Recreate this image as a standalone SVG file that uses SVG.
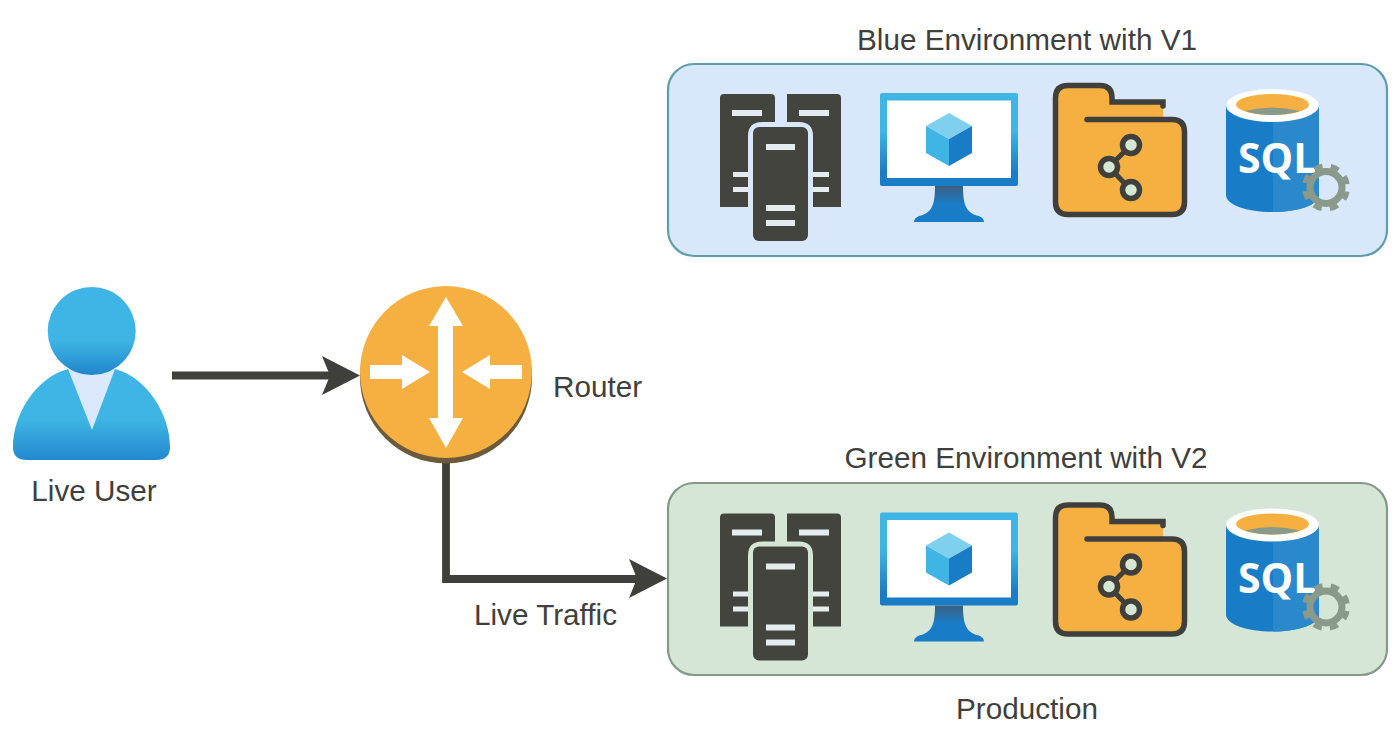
<svg xmlns="http://www.w3.org/2000/svg" xmlns:xlink="http://www.w3.org/1999/xlink" width="1400" height="746" viewBox="0 0 1400 746">
<style>
text{font-family:"Liberation Sans",Arial,sans-serif;font-size:29.7px;fill:#3f3f3b}
.m{text-anchor:middle}
.env{stroke-width:2.2}
.srv{fill:#44443f}
.slot{fill:#e4ecf0}
.conn{fill:none;stroke:#3f3f3b;stroke-width:7.8}
.head{fill:#3f3f3b}
.w{fill:#fff}
</style>
<defs>
<linearGradient id="headG" x1="0" y1="0" x2="0" y2="1"><stop offset="0.6" stop-color="#3fb5e5"/><stop offset="1" stop-color="#2085cb"/></linearGradient>
<linearGradient id="bodyG" x1="0" y1="0" x2="0" y2="1"><stop offset="0.55" stop-color="#3fb5e5"/><stop offset="1" stop-color="#2288ce"/></linearGradient>
<linearGradient id="monG" x1="0" y1="0" x2="0" y2="1"><stop offset="0.4" stop-color="#3fb5e5"/><stop offset="0.85" stop-color="#187dc6"/></linearGradient>
<linearGradient id="standG" x1="0" y1="0" x2="0" y2="1"><stop offset="0" stop-color="#3d5f82"/><stop offset="0.5" stop-color="#187dc6"/></linearGradient>
<g id="servers">
<path class="srv" d="M720,98Q720,94 724,94H771Q775,94 775,98V122H762Q748,122 748,136V207H720Z"/>
<path class="srv" d="M787,94H837Q841,94 841,98V207H813V136Q813,122 799,122H787Z"/>
<rect class="srv" x="753" y="127" width="55" height="114" rx="6"/>
<g class="slot">
<rect x="732" y="110" width="30" height="6"/><rect x="799" y="110" width="30" height="6"/>
<rect x="733" y="172" width="15" height="5"/><rect x="733" y="187" width="15" height="5"/>
<rect x="813" y="172" width="16" height="5"/><rect x="813" y="187" width="16" height="5"/>
<rect x="766" y="144" width="29" height="6"/><rect x="766" y="205" width="29" height="6"/><rect x="766" y="220" width="29" height="6"/>
</g>
</g>
<g id="monitor">
<rect x="880" y="93" width="138" height="93" rx="2" fill="url(#monG)"/>
<rect x="887" y="100.500" width="124" height="77.500" fill="#fff"/>
<path d="M935,186H963C963,205 966,213 979,216Q984,218 984,222H914Q914,218 919,216C932,213 935,205 935,186Z" fill="url(#standG)"/>
<path d="M949,113L972,126L949,139L926,126Z" fill="#7fd0ee"/>
<path d="M926,126L949,139V166L926,153Z" fill="#3fb5e5"/>
<path d="M972,126L949,139V166L972,153Z" fill="#187dc6"/>
</g>
<g id="folder">
<path d="M1056,86H1100Q1112,86 1112,98V102H1163V120H1172Q1185,120 1185,132V202Q1185,215 1172,215H1068Q1056,215 1056,202Z" fill="#f5b041"/>
<path d="M1087,119.500H1172Q1184.500,119.500 1184.500,132V202Q1184.500,214.500 1172,214.500H1068Q1055.500,214.500 1055.500,202V98Q1055.500,85.500 1068,85.500H1100Q1112,85.500 1112,98V102H1163V106" fill="none" stroke="#3f3f3b" stroke-width="5.500" stroke-linecap="round"/>
<path d="M1131,145L1109,167L1131,190" fill="none" stroke="#3f3f3b" stroke-width="5"/>
<g fill="#d5e8d4" stroke="#3f3f3b" stroke-width="5.500"><circle cx="1131" cy="145" r="8.500"/><circle cx="1109" cy="167" r="8.500"/><circle cx="1131" cy="190" r="8.500"/></g>
</g>
<g id="sql">
<path d="M1226,105V195C1226,205 1247,212 1272.500,212S1319,205 1319,195V105Z" fill="#187dc6"/>
<path d="M1273,122C1300,122 1319,115 1319,105V195C1319,205 1298,212 1273,212Z" fill="#2a88cc"/>
<ellipse cx="1272.500" cy="105.500" rx="46.500" ry="16.500" fill="#fff"/>
<ellipse cx="1272.500" cy="104.500" rx="36.500" ry="10.500" fill="#f5b041"/>
<path d="M1245,111Q1272,104 1300,111Q1288,115 1272.500,115Q1257,115 1245,111Z" fill="#8a9a8a"/>
<text x="1238" y="173" style="font-family:'Open Sans',sans-serif;font-size:41px;font-weight:700;fill:#fff">SQL</text>
<circle cx="1326" cy="187.500" r="16" fill="none" stroke="#8a9a8a" stroke-width="7"/>
<circle cx="1326" cy="187.500" r="21.500" fill="none" stroke="#8a9a8a" stroke-width="5" stroke-dasharray="8.440 8.440" stroke-dashoffset="12.660"/>
</g>
</defs>
<rect width="1400" height="746" fill="#fff"/>
<g id="connectors">
<path class="conn" d="M172,375.500H332"/>
<path class="head" d="M360,375.500L322,356L330,375.500L322,395Z"/>
<path class="conn" d="M446,460V579H640"/>
<path class="head" d="M667,578.500L629,559L637,578.500L629,598Z"/>
</g>
<g id="blue-env">
<rect class="env" x="668" y="64" width="719" height="192" rx="26" fill="#d8e8fa" stroke="#5f9ea8"/>
<text class="m" x="1027" y="50">Blue Environment with V1</text>
<use xlink:href="#servers" href="#servers"/><use xlink:href="#monitor" href="#monitor"/><use xlink:href="#folder" href="#folder"/><use xlink:href="#sql" href="#sql"/>
</g>
<g id="green-env">
<rect class="env" x="668" y="483" width="719" height="192" rx="26" fill="#d5e6d6" stroke="#85998a"/>
<text class="m" x="1026" y="468">Green Environment with V2</text>
<g transform="translate(0,419.500)"><use xlink:href="#servers" href="#servers"/><use xlink:href="#monitor" href="#monitor"/><use xlink:href="#folder" href="#folder"/><use xlink:href="#sql" href="#sql"/></g>
<text class="m" x="1027" y="719">Production</text>
</g>
<g id="live-user">
<path d="M68,369C35,378 13,415 13,447Q13,460 27,460H156Q170,460 170,447C170,415 148,378 115,369L92,385Z" fill="url(#bodyG)"/>
<path d="M68,369H115L92,430Z" fill="#dae8fc"/>
<circle cx="91.700" cy="331" r="44" fill="url(#headG)"/>
<text class="m" x="94" y="501">Live User</text>
</g>
<g id="router">
<circle cx="446" cy="377.500" r="86" fill="#6b5a3c"/>
<circle cx="446" cy="372" r="86" fill="#f5b041"/>
<path class="w" d="M446,297L463,326H453V418H463L446,448L429,418H438V326H429Z"/>
<path class="w" d="M370,365H402V355L430,372L402,389V379H370Z"/>
<path class="w" d="M522,365H490V355L462,372L490,389V379H522Z"/>
<text x="553" y="397">Router</text>
</g>
<text id="live-traffic" x="474" y="625">Live Traffic</text>
</svg>
